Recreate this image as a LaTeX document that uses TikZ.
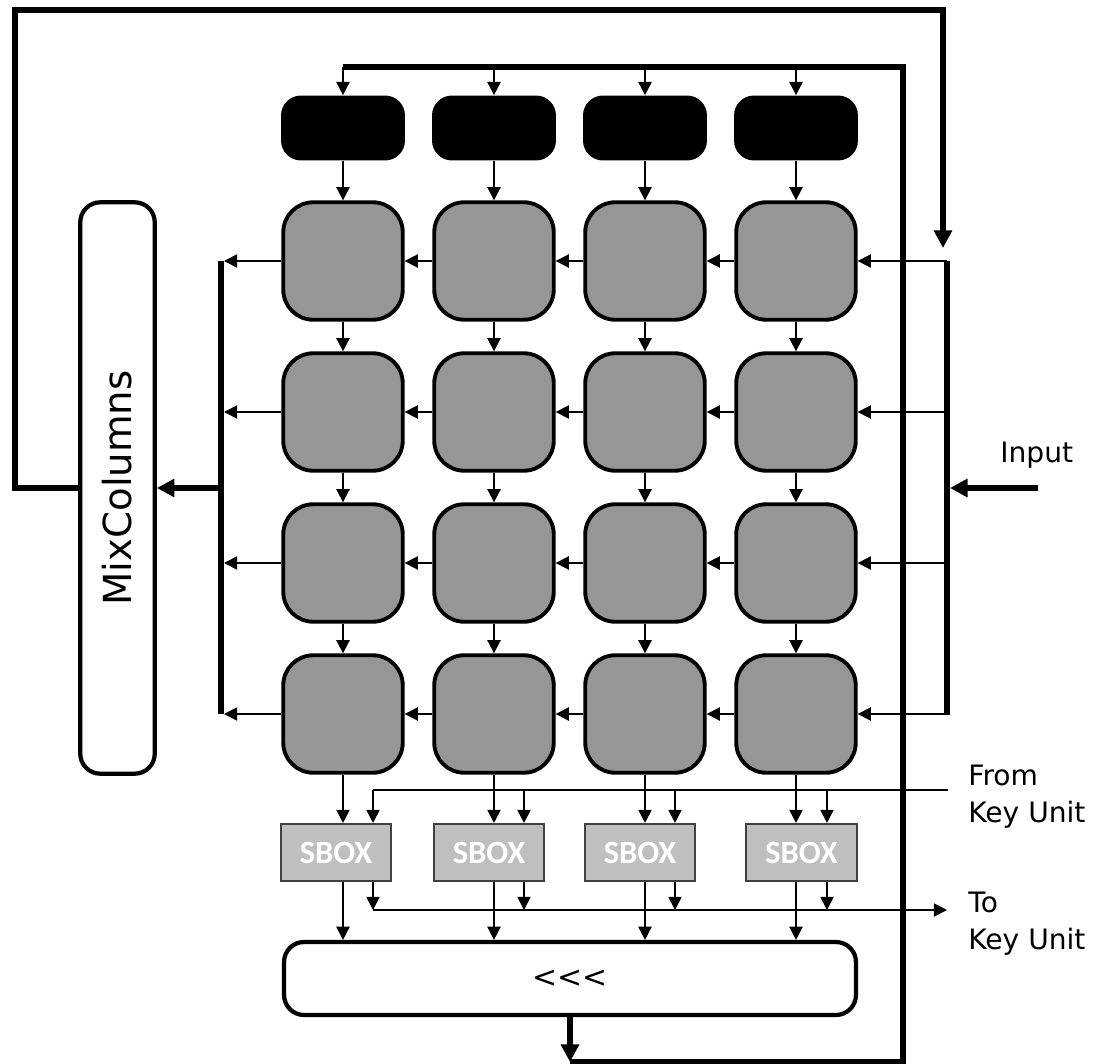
\documentclass[tikz,border=0pt]{standalone}
\usepackage{fontspec}
\newfontfamily\labelfont{DejaVu Sans}
\newfontfamily\sboxfont{Carlito}
\usetikzlibrary{arrows.meta, positioning, calc}
\definecolor{cellgray}{RGB}{150,150,150}
\definecolor{sboxgray}{RGB}{191,191,191}

\begin{document}
\begin{tikzpicture}[
    x=0.02cm, y=-0.02cm,
    cell/.style={rectangle, draw, line width=2.2pt, fill=cellgray, rounded corners=0.6cm, minimum width=2.39cm, minimum height=2.35cm, inner sep=0pt},
    blk/.style={rectangle, fill=black, rounded corners=0.4cm, minimum width=2.48cm, minimum height=1.3cm, inner sep=0pt},
    sbox/.style={rectangle, draw=black!75, line width=0.9pt, fill=sboxgray, minimum width=2.21cm, minimum height=1.15cm, inner sep=0pt, text=white, font=\sboxfont\bfseries\fontsize{18.5}{21}\selectfont},
    unit/.style={rectangle, draw, line width=2.4pt, rounded corners=0.4cm, inner sep=0pt},
    lbl/.style={font=\labelfont\fontsize{16}{21}\selectfont, align=left, inner sep=0pt},
    arrow/.style={-{Triangle[length=7.5pt, width=7.5pt]}, line width=1pt},
    bus/.style={line width=3.4pt},
    bigarrow/.style={-{Triangle[length=10pt, width=10pt]}, line width=3.4pt}
]
\useasboundingbox (0,0) rectangle (1095,1064);

% state array
\foreach \c/\x in {1/343,2/494,3/645,4/796} {
  \node[blk] (b\c) at (\x,128) {};
  \foreach \r/\y in {1/261,2/412,3/563,4/714}
    \node[cell] (c\r\c) at (\x,\y) {};
}

\node[unit, minimum width=1.49cm, minimum height=11.43cm] (mix) at (117.5,488) {};
\node[font=\labelfont\fontsize{22}{26}\selectfont, rotate=90] (mixtext) at (mix.center) {MixColumns};
\node[unit, minimum width=11.44cm, minimum height=1.46cm, font=\labelfont\fontsize{17}{20}\selectfont] (shift) at (570,978.5) {<\kern0pt<\kern0pt<};

\foreach \c/\x in {1/336,2/489,3/640,4/801.5}
  \node[sbox] (s\c) at (\x,852.5) {SBOX};

\node[lbl, anchor=base west] (inlabel) at (1000,462) {Input};
\node[lbl, anchor=west] (fromlabel) at (968,797) {From\\Key Unit};
\node[lbl, anchor=west] (tolabel) at (968,924) {To\\Key Unit};

% bus points
\coordinate (topbus) at (343,67);
\coordinate (loopcorner) at (570,1062);
\coordinate (feedin) at (943,248);
\coordinate (lbtop) at (221,261);
\coordinate (lbbot) at (221,714);
\coordinate (lbmid) at (221,488);
\coordinate (rbtop) at (947,261);
\coordinate (rbbot) at (947,715);
\coordinate (inp) at (1038,488);
\coordinate (fromkey) at (948,790);
\coordinate (tokey) at (947,910);
\foreach \c/\kx in {1/373,2/524,3/675,4/827} {
  \coordinate (keyin\c) at (\kx,790);
  \coordinate (keyout\c) at (\kx,910);
}

% feedback loops
\draw[bigarrow] (shift.south) -- (loopcorner);
\draw[bus] (loopcorner) -| (903,67) -- (topbus);
\draw[bigarrow] (mix.west) -| (15,10) -| (feedin);

% buses
\draw[bus] (lbtop) -- (lbbot);
\draw[bus] (rbtop) -- (rbbot);
\draw[bigarrow] (lbmid) -- (mix.east);
\draw[bigarrow, shorten >=1.7pt] (inp) -- (inp -| rbtop);

\foreach \c in {1,...,4} {
  \draw[arrow] (b\c.north |- topbus) -- (b\c.north);
  \draw[arrow] (b\c) -- (c1\c);
  \draw[arrow] (c1\c) -- (c2\c);
  \draw[arrow] (c2\c) -- (c3\c);
  \draw[arrow] (c3\c) -- (c4\c);
}
\foreach \r in {1,...,4} {
  \draw[arrow] (c\r4.east -| rbtop) -- (c\r4.east);
  \draw[arrow] (c\r4) -- (c\r3);
  \draw[arrow] (c\r3) -- (c\r2);
  \draw[arrow] (c\r2) -- (c\r1);
  \draw[arrow, shorten >=1.7pt] (c\r1.west) -- (c\r1.west -| lbtop);
}

% sbox stage
\draw[line width=1pt] (fromkey) -- (keyin1);
\draw[arrow] (keyout1) -- (tokey);
\foreach \c in {1,...,4} {
  \draw[arrow] (c4\c.south) -- (c4\c.south |- s\c.north);
  \draw[arrow] (keyin\c) -- (keyin\c |- s\c.north);
  \draw[arrow] (c4\c.south |- s\c.south) -- (c4\c.south |- shift.north);
  \draw[arrow] (keyout\c |- s\c.south) -- (keyout\c);
}
\end{tikzpicture}
\end{document}
